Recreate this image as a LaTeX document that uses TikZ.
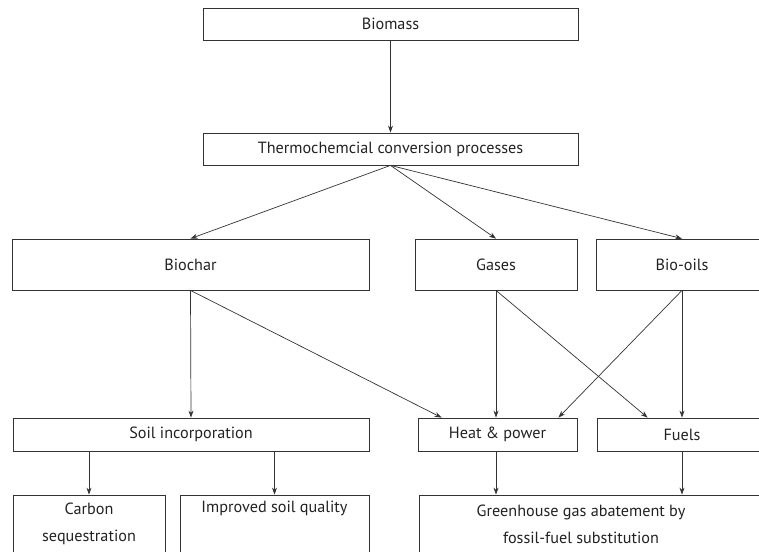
\documentclass[tikz,border=0pt]{standalone}
\usepackage{fontspec}
\setmainfont{PT Sans}
\usetikzlibrary{arrows.meta}
\definecolor{ln}{HTML}{333333}
\definecolor{tx}{HTML}{222222}
\begin{document}
\begin{tikzpicture}[x=1pt,y=1pt,
  box/.style={draw=ln,line width=0.8pt,text=tx,inner sep=0pt,align=center,font=\fontsize{16.2}{27}\selectfont},
  lbl/.style={text=tx,inner sep=0pt,align=center,font=\fontsize{16.2}{27}\selectfont},
  arr/.style={draw=ln,line width=0.7pt,-{Stealth[length=7pt,width=5pt]}}]
\clip (0,0) rectangle (759,-551);
\node[box,minimum width=375,minimum height=32] (biomass) at (390.5,-24) {Biomass};
\node[box,minimum width=375,minimum height=32] (thermo) at (390.5,-149) {Thermochemcial conversion processes};
\node[box,minimum width=357,minimum height=51] (biochar) at (190.5,-264.5) {Biochar};
\node[box,minimum width=162,minimum height=51] (gases) at (496,-264.5) {Gases};
\node[box,minimum width=172,minimum height=51] (biooils) at (682,-264.5) {Bio-oils};
\node[box,minimum width=356,minimum height=33] (soil) at (191,-434.5) {Soil incorporation};
\node[box,minimum width=159,minimum height=33] (heat) at (497.5,-434.5) {Heat \& power};
\node[box,minimum width=170,minimum height=33] (fuels) at (682,-434.5) {Fuels};
\node[box,minimum width=152,minimum height=58] (carbon) at (89,-524) {Carbon\\sequestration};
\node[box,minimum width=189,minimum height=58] (improved) at (274.5,-524) {Improved soil quality\\\strut};
\node[box,minimum width=346,minimum height=58] (green) at (592,-524) {};
\node[lbl] (greentext) at (581,-524) {Greenhouse gas abatement by\\fossil-fuel substitution};
\draw[arr] (biomass.south) -- (thermo.north);
\draw[arr] (thermo.south) -- (biochar.north);
\draw[arr] (thermo.south) -- (gases.north);
\draw[arr] (thermo.south) -- (biooils.north);
\draw[arr] (biochar.south) -- (soil.north);
\draw[arr] (biochar.south) -- ([xshift=24pt]heat.north west);
\draw[arr] (gases.south) -- (gases.south |- heat.north);
\draw[arr] (gases.south) -- ([xshift=51pt]fuels.north west);
\draw[arr] (biooils.south) -- ([xshift=-19pt]heat.north east);
\draw[arr] (biooils.south) -- (fuels.north);
\draw[arr] (soil.south -| carbon.north) -- (carbon.north);
\draw[arr] (soil.south -| improved.north) -- (improved.north);
\draw[arr] (heat.south -| gases.south) -- (gases.south |- green.north);
\draw[arr] (fuels.south) -- (fuels.south |- green.north);
\end{tikzpicture}
\end{document}
